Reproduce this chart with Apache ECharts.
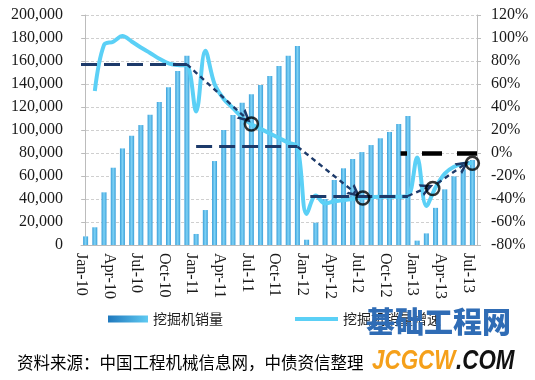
<!DOCTYPE html>
<html><head><meta charset="utf-8">
<script src="https://cdn.jsdelivr.net/npm/echarts@6/dist/echarts.min.js"></script>
<style>html,body{margin:0;padding:0;background:#fff}#c{width:535px;height:380px}</style>
</head><body><div id="c"></div>
<script>
// ---- data ----
const months = ['Jan-10','Feb-10','Mar-10','Apr-10','May-10','Jun-10','Jul-10','Aug-10','Sep-10','Oct-10','Nov-10','Dec-10',
  'Jan-11','Feb-11','Mar-11','Apr-11','May-11','Jun-11','Jul-11','Aug-11','Sep-11','Oct-11','Nov-11','Dec-11',
  'Jan-12','Feb-12','Mar-12','Apr-12','May-12','Jun-12','Jul-12','Aug-12','Sep-12','Oct-12','Nov-12','Dec-12',
  'Jan-13','Feb-13','Mar-13','Apr-13','May-13','Jun-13','Jul-13'];
const sales = [7500,15400,45800,67200,84000,95000,104300,113300,124300,137100,151300,164600,
  9600,30400,73000,100000,113000,123700,131000,139100,147000,155700,164600,173000,
  4600,19400,40000,56500,66700,74800,80800,86900,92800,98300,105200,112200,
  3800,10100,32300,48400,59700,65800,73900];
const growth = [null,54,94,96.8,101.7,97,91.7,87,82,78,76.5,76,
  36,89,60,47,39,31,25,21,17,13,9,5.5,
  -53,-37,-44,-42,-41,-40,-39,-38.5,-38,-38,-38,-37.5,
  -4,-46,-30,-18,-12,-9.6,-8.4];
const leftTicks = {min:0, max:200000, interval:20000};
const rightTicks = {min:-80, max:120, interval:20};
const barName = '挖掘机销量';
const lineName = '挖掘机销量增速';
const sourceText = '资料来源：中国工程机械信息网，中债资信整理';
// annotations, in (month index, growth %) terms
const trendLevels = [[-0.5, 11, 77.1], [12, 23, 5.5], [24.4, 35, -37.4]];
const trendArrows = [[[11,77.1],[17.4,30.4]], [[23,5.5],[29.3,-34.8]], [[35,-37.4],[37.1,-30]], [[38.2,-26.4],[41.05,-10.4]]];
const trendPoints = [[18,25.2],[30.1,-39.1],[37.7,-30.9],[42,-9]];
const zeroRef = [[42.5,0],[34.2,0]];

// ---- chart ----
const chart = echarts.init(document.getElementById('c'));
const serif = '"Liberation Serif", "Times New Roman", serif';
const cjk = '"Noto Sans CJK SC", sans-serif';
const navy = '#1d3a6a';
const chevron = 'path://M6,0 L12,9 L9.4,9 L6,4 L2.6,9 L0,9 Z';
const barGrad = new echarts.graphic.LinearGradient(0,0,1,0,[
  {offset:0,color:'#3a9fd9'},{offset:0.5,color:'#7fd3f6'},{offset:1,color:'#3a9fd9'}]);
const legendGrad = new echarts.graphic.LinearGradient(0,0,1,0,[
  {offset:0,color:'#1f78bd'},{offset:1,color:'#5fcaf2'}]);

chart.setOption({
  animation:false,
  grid:{left:81,right:58,top:15,bottom:135},
  xAxis:[{
    type:'category', data:months, boundaryGap:true,
    axisLine:{lineStyle:{color:'#bcbcbc'}},
    axisTick:{interval:2,length:5,lineStyle:{color:'#bcbcbc'}},
    axisLabel:{interval:2,rotate:-90,margin:8,fontFamily:serif,fontSize:16,color:'#1a1a1a',
      verticalAlign:'top',lineHeight:9}
  },{
    type:'value', min:-0.5, max:42.5, show:false
  }],
  yAxis:[{
    type:'value', min:leftTicks.min, max:leftTicks.max, interval:leftTicks.interval,
    axisLine:{show:true,lineStyle:{color:'#bcbcbc'}},
    axisTick:{show:true,length:4,lineStyle:{color:'#bcbcbc'}},
    splitLine:{lineStyle:{color:'#cfcfcf',type:[3,2]}},
    axisLabel:{margin:18,fontFamily:serif,fontSize:16,color:'#1a1a1a',
      formatter:v=>v.toLocaleString('en-US')}
  },{
    type:'value', min:rightTicks.min, max:rightTicks.max, interval:rightTicks.interval,
    axisLine:{show:true,lineStyle:{color:'#bcbcbc'}},
    axisTick:{show:true,length:4,lineStyle:{color:'#bcbcbc'}},
    splitLine:{show:false},
    axisLabel:{margin:14,fontFamily:serif,fontSize:16,color:'#1a1a1a',formatter:'{value}%'}
  }],
  legend:[{
    left:103, top:307, itemWidth:40, itemHeight:7,
    textStyle:{fontFamily:cjk,fontSize:14,color:'#222'},
    data:[{name:barName,icon:'rect',itemStyle:{color:legendGrad}}]
  },{
    left:290, top:307, itemWidth:43, itemHeight:4,
    textStyle:{fontFamily:cjk,fontSize:14,color:'#222'},
    data:[{name:lineName,icon:'rect'}]
  }],
  series:[
    {name:barName,type:'bar',data:sales,barWidth:5,itemStyle:{color:barGrad},z:2},
    {name:lineName,type:'line',yAxisIndex:1,data:growth,smooth:0.35,showSymbol:false,
      lineStyle:{width:4,color:'#5bd0f6'},itemStyle:{color:'#5bd0f6'},z:3},
    {type:'lines',coordinateSystem:'cartesian2d',xAxisIndex:1,yAxisIndex:1,z:4,
      lineStyle:{color:navy,width:2.8,type:[16,7],opacity:1},symbol:'none',
      data:trendLevels.map(t=>({coords:[[t[0],t[2]],[t[1],t[2]]]}))},
    {type:'lines',coordinateSystem:'cartesian2d',xAxisIndex:1,yAxisIndex:1,z:4,
      lineStyle:{color:navy,width:2.4,type:[5,4],opacity:1},symbol:['none',chevron],symbolSize:[17,13],
      data:trendArrows.map(a=>({coords:a}))},
    {type:'lines',coordinateSystem:'cartesian2d',xAxisIndex:1,yAxisIndex:1,z:4,
      lineStyle:{color:'#000',width:4.5,type:[20,15],opacity:1},symbol:'none',
      data:[{coords:zeroRef}]},
    {type:'scatter',xAxisIndex:1,yAxisIndex:1,z:5,symbol:'circle',symbolSize:13,
      itemStyle:{color:'rgba(255,255,255,0)',borderColor:'#000',borderWidth:2.5},
      data:trendPoints}
  ],
  graphic:[
    {type:'text',left:17,top:354,z:10,style:{text:sourceText,font:'16.5px "Noto Sans CJK SC"',fill:'#000'}},
    {type:'text',left:366,top:307,z:20,style:{text:'基础工程网',font:'900 29px "Noto Sans CJK SC"',fill:'#2f6cb5'}},
    {type:'text',left:372,top:347,z:20,scaleX:0.8,style:{text:'JCGCW',font:'italic bold 28px "Liberation Sans"',fill:'#f5a01a'}},
    {type:'text',left:456,top:347,z:20,scaleX:0.8,style:{text:'.COM',font:'italic bold 28px "Liberation Sans"',fill:'#111'}}
  ]
});
</script></body></html>
